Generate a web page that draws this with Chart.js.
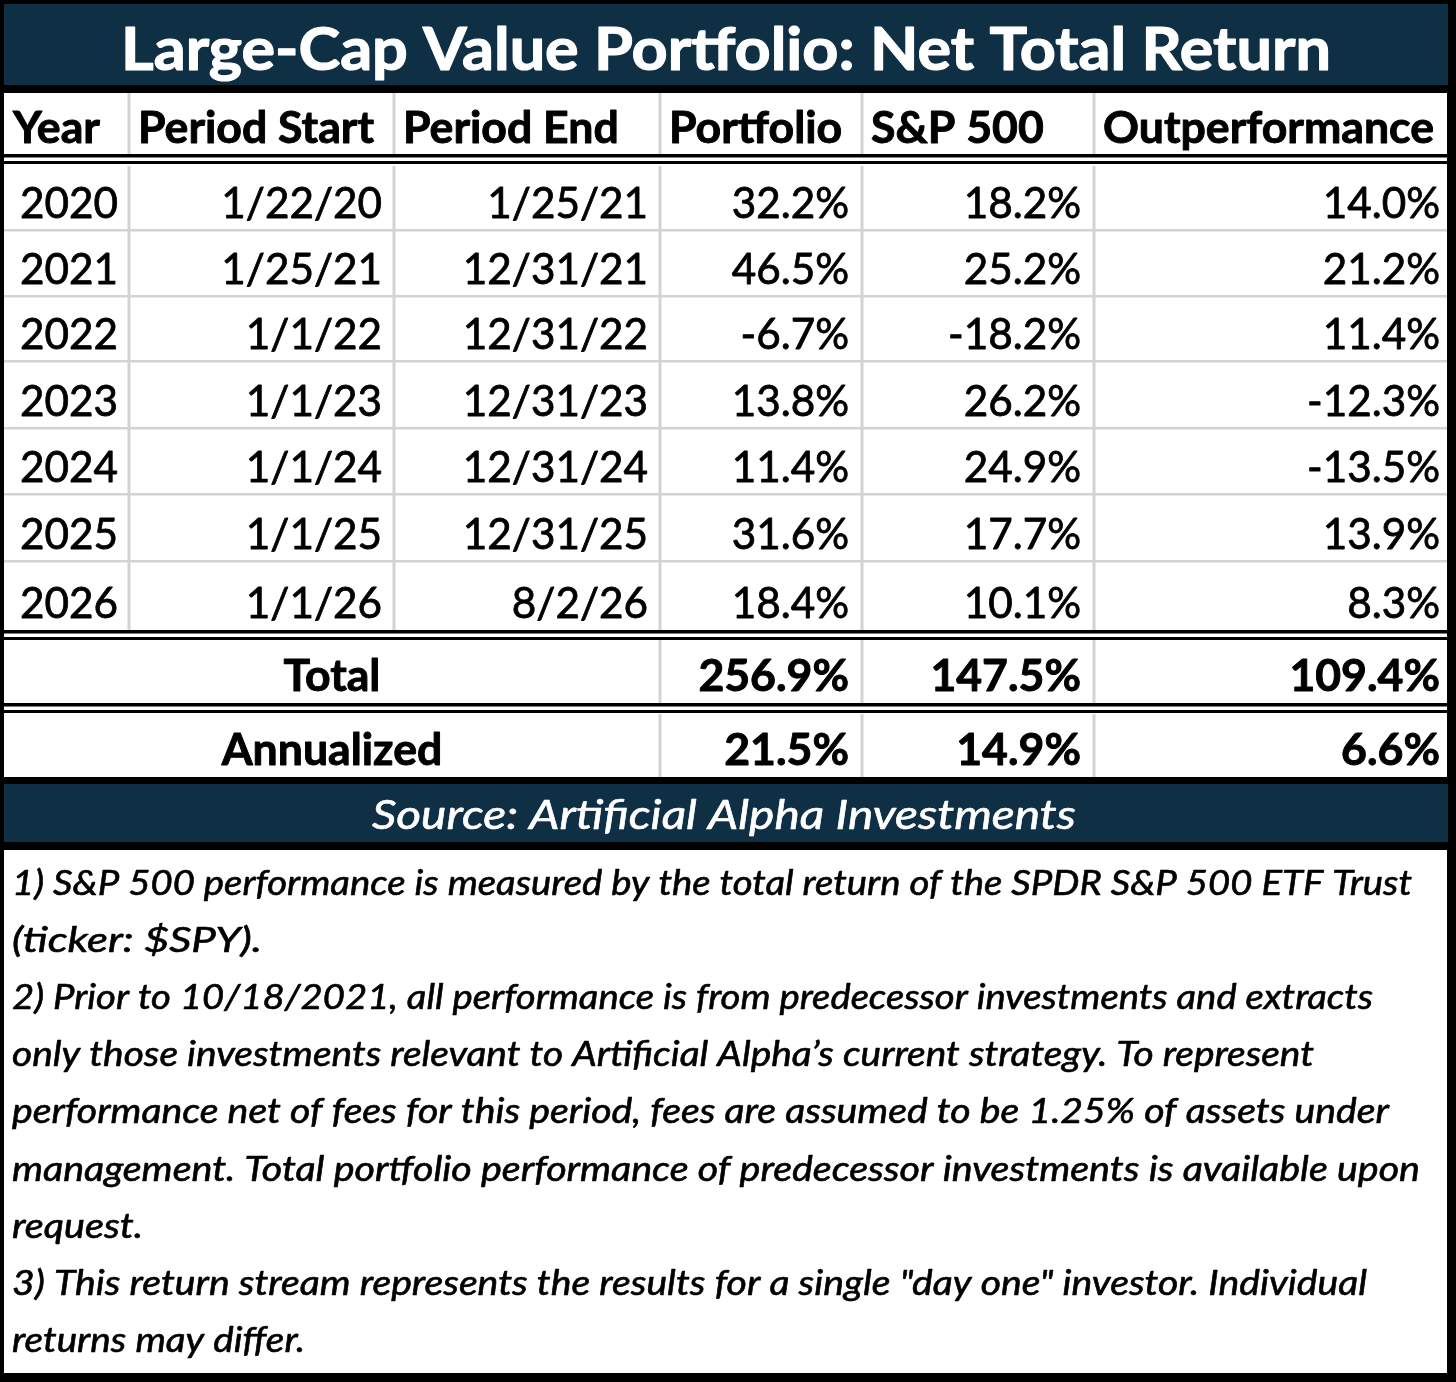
<!DOCTYPE html>
<html>
<head>
<meta charset="utf-8">
<script src="https://cdn.jsdelivr.net/npm/chart.js@4.4.1/dist/chart.umd.min.js"></script>
<style>
    html, body { margin: 0; padding: 0; background: #000; }
    #wrap { width: 1456px; height: 1382px; }
</style>
</head>
<body>
<div id="wrap"><canvas id="tabela" width="1456" height="1382"></canvas></div>
<script>
const title = 'Large-Cap Value Portfolio: Net Total Return';
const headers = ['Year', 'Period Start', 'Period End', 'Portfolio', 'S&P 500', 'Outperformance'];
const years = ['2020', '2021', '2022', '2023', '2024', '2025', '2026'];
const periodStart = ['1/22/20', '1/25/21', '1/1/22', '1/1/23', '1/1/24', '1/1/25', '1/1/26'];
const periodEnd = ['1/25/21', '12/31/21', '12/31/22', '12/31/23', '12/31/24', '12/31/25', '8/2/26'];
const portfolio = [32.2, 46.5, -6.7, 13.8, 11.4, 31.6, 18.4];
const sp500 = [18.2, 25.2, -18.2, 26.2, 24.9, 17.7, 10.1];
const outperformance = [14.0, 21.2, 11.4, -12.3, -13.5, 13.9, 8.3];
const totalRow = [256.9, 147.5, 109.4];
const annualizedRow = [21.5, 14.9, 6.6];
const source = 'Source: Artificial Alpha Investments';
const notes = [
    '1) S&P 500 performance is measured by the total return of the SPDR S&P 500 ETF Trust',
    '(ticker: $SPY).',
    '2) Prior to 10/18/2021, all performance is from predecessor investments and extracts',
    'only those investments relevant to Artificial Alpha\u2019s current strategy. To represent',
    'performance net of fees for this period, fees are assumed to be 1.25% of assets under',
    'management. Total portfolio performance of predecessor investments is available upon',
    'request.',
    '3) This return stream represents the results for a single "day one" investor. Individual',
    'returns may differ.'
];

const W = 1456, H = 1382;
const NAVY = '#0e2f44';
const GRID = '#d3d3d3';

// layout da tabela (pixels)
const colEdges = [4, 129, 394, 660, 862, 1094, 1447];
const rowBottoms = [154, 230, 296, 361, 428, 494, 561, 630, 703, 777];
const rightPad = [0, 12, 12, 13, 13, 7];
// largura de cada linha das notas na imagem original
const noteWidths = [1400, 250, 1361, 1302, 1377, 1408, 131, 1355, 293];

const pct = v => v.toFixed(1) + '%';

function squeeze(ctx, font, text, target) {
    ctx.font = font;
    return target / ctx.measureText(text).width;
}

function drawText(ctx, text, x, y, font, sx, align, color, stroke) {
    ctx.save();
    ctx.font = font;
    ctx.fillStyle = color;
    ctx.strokeStyle = color;
    ctx.lineWidth = stroke || 0;
    ctx.lineJoin = 'round';
    ctx.textAlign = align;
    ctx.textBaseline = 'alphabetic';
    ctx.translate(x, y);
    ctx.scale(sx, 1);
    ctx.fillText(text, 0, 0);
    if (stroke) ctx.strokeText(text, 0, 0);
    ctx.restore();
}

const tablePlugin = {
    id: 'tablePlugin',
    afterDraw(chart) {
        const ctx = chart.ctx;
        const sx = chart.scales.x, sy = chart.scales.y;
        const px = v => sx.getPixelForValue(v);
        const py = v => sy.getPixelForValue(v);
        const rect = (x0, y0, x1, y1, c) => {
            ctx.fillStyle = c;
            ctx.fillRect(px(x0), py(y0), px(x1) - px(x0), py(y1) - py(y0));
        };

        const fTitle = 'bold 60px Lato';
        const fHead = 'bold 43px Lato';
        const fCell = '43px Lato';
        const fSource = 'italic 40px Lato';
        const fNote = 'italic 34px Lato';
        const kTitle = squeeze(ctx, fTitle, title, 1210);
        const kHead = squeeze(ctx, fHead, 'Outperformance', 331);
        const kCell = squeeze(ctx, fCell, '2020', 98);
        const kSource = squeeze(ctx, fSource, source, 704);

        // fundo e faixas
        rect(0, 0, W, H, '#000');
        rect(4, 4, 1448, 85, NAVY);
        rect(4, 93, 1447, 777, '#fff');
        rect(4, 784, 1448, 842, NAVY);
        rect(4, 850, 1447, 1373, '#fff');

        // linhas duplas
        [[154, 161], [630, 637], [703, 710]].forEach(([a, b]) => {
            rect(4, a, 1447, a + 3.5, '#000');
            rect(4, b, 1447, b + 3, '#000');
        });

        // grade cinza
        for (let r = 1; r < 7; r++) {
            rect(4, rowBottoms[r] - 1, 1447, rowBottoms[r] + 1.5, GRID);
        }
        for (let c = 1; c < 6; c++) {
            const x = colEdges[c];
            rect(x - 1.5, 93, x + 1.5, 154, GRID);
            rect(x - 1.5, 166, x + 1.5, 630, GRID);
            if (c >= 3) {
                rect(x - 1.5, 640, x + 1.5, 703, GRID);
                rect(x - 1.5, 714, x + 1.5, 777, GRID);
            }
        }

        // título
        drawText(ctx, title, px(726), py(70), fTitle, kTitle, 'center', '#fff', 1.2);

        // cabeçalho
        headers.forEach((h, c) => {
            drawText(ctx, h, px(colEdges[c] + 9), py(rowBottoms[0] - 11), fHead, kHead, 'left', '#000', 0.9);
        });

        // linhas de dados
        const cols = [periodStart, periodEnd, portfolio.map(pct), sp500.map(pct), outperformance.map(pct)];
        years.forEach((y, i) => {
            const base = py(rowBottoms[i + 1] - 12);
            drawText(ctx, y, px(colEdges[0] + 16), base, fCell, kCell, 'left', '#000', 0.8);
            cols.forEach((arr, c) => {
                drawText(ctx, arr[i], px(colEdges[c + 2] - rightPad[c + 1]), base, fCell, kCell, 'right', '#000', 0.8);
            });
        });

        // total e anualizado
        [['Total', totalRow, 8], ['Annualized', annualizedRow, 9]].forEach(([label, vals, r]) => {
            const base = py(rowBottoms[r] - 12);
            drawText(ctx, label, px((colEdges[0] + colEdges[3]) / 2), base, fHead, kHead, 'center', '#000', 0.9);
            vals.forEach((v, j) => {
                drawText(ctx, pct(v), px(colEdges[j + 4] - rightPad[j + 3]), base, fHead, kHead, 'right', '#000', 0.9);
            });
        });

        // fonte
        drawText(ctx, source, px(724), py(829), fSource, kSource, 'center', '#fff', 0.6);

        // notas
        notes.forEach((n, i) => {
            const k = squeeze(ctx, fNote, n, noteWidths[i]);
            drawText(ctx, n, px(12), py(895 + i * 57.1), fNote, k, 'left', '#000', 0.6);
        });
    }
};

function inicializar() {
    const ctx = document.getElementById('tabela').getContext('2d');
    new Chart(ctx, {
        type: 'scatter',
        data: { datasets: [] },
        options: {
            responsive: false,
            animation: false,
            devicePixelRatio: 1,
            layout: { padding: 0 },
            scales: {
                x: { type: 'linear', min: 0, max: W, display: false },
                y: { type: 'linear', min: 0, max: H, reverse: true, display: false }
            },
            plugins: { legend: { display: false }, tooltip: { enabled: false } }
        },
        plugins: [tablePlugin]
    });
}

window.onload = inicializar;
</script>
</body>
</html>
